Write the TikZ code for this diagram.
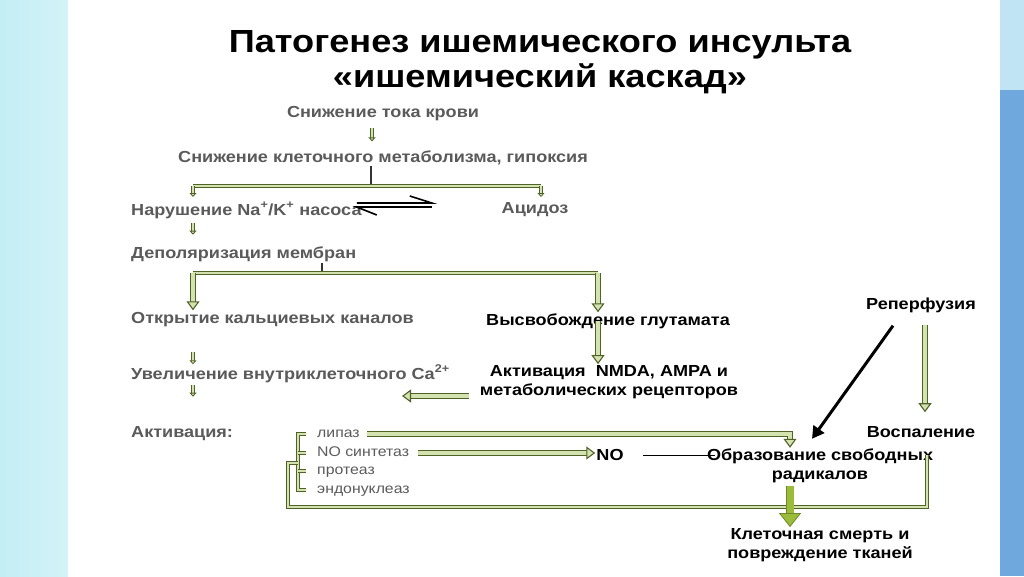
\documentclass[tikz,border=0pt]{standalone}
\usepackage{fontspec}
\setmainfont{Liberation Sans}[FakeStretch=1.13]
\usetikzlibrary{positioning, arrows.meta, calc}

\definecolor{txtgray}{HTML}{5A5A5A}
\definecolor{oliveline}{HTML}{4F6228}
\definecolor{olivefill}{HTML}{D4E2B0}
\definecolor{limefill}{HTML}{9BBB3A}
\definecolor{limeline}{HTML}{6E8A2A}
\definecolor{stripcyan}{HTML}{C4EDF4}
\definecolor{stripcyanb}{HTML}{D3F3F8}
\definecolor{striplight}{HTML}{C0E4F4}
\definecolor{stripblue}{HTML}{6FA8DC}

\begin{document}
\begin{tikzpicture}[
  x=1pt, y=-1pt,
  every node/.style={font=\bfseries\fontsize{16}{19}\selectfont, inner sep=1pt},
  lbl/.style={text=txtgray, anchor=west, text height=11.5pt, text depth=3.5pt},
  cbl/.style={text=black, align=center},
  item/.style={text=txtgray, anchor=west, font=\fontsize{14}{16}\selectfont,
    text height=10pt, text depth=3pt},
  bar/.style={draw=oliveline, double=olivefill, double distance=2pt, line width=1pt},
  garr/.style={draw=oliveline, double=olivefill, double distance=4pt, line width=1.1pt,
    -{Triangle[length=9pt, width=13pt, fill=olivefill]}},
  tiny/.style={draw=oliveline, double=olivefill, double distance=1.6pt, line width=0.8pt,
    -{Triangle[length=4pt, width=7pt, fill=olivefill]}},
  stem/.style={draw=black!80, line width=2pt},
  eq/.style={draw=black, line width=1.6pt},
  thinln/.style={draw=black, line width=1pt},
  blk/.style={draw=black, line width=3pt, -{Triangle[length=12pt, width=13pt]}},
  limearr/.style={draw=limeline, double=limefill, double distance=7pt, line width=0.8pt,
    -{Triangle[length=14pt, width=22pt, fill=limefill]}},
]
\useasboundingbox (0,0) rectangle (1024,576);

%% side strips
\shade[left color=stripcyan, right color=stripcyanb] (0,0) rectangle (68,576);
\fill[striplight] (1000,0) rectangle (1024,90);
\fill[stripblue] (1000,90) rectangle (1024,576);

%% Title
\node[font=\bfseries\fontsize{32}{35}\selectfont, align=center] (title) at (540,62)
  {Патогенез ишемического инсульта\\«ишемический каскад»};

%% Left column
\node[cbl, text=txtgray] (flow) at (383,114) {Снижение тока крови};
\node[cbl, text=txtgray] (metab) at (383,158) {Снижение клеточного метаболизма, гипоксия};
\node[lbl] (pump) at (130,211) {Нарушение Na\textsuperscript{+}/K\textsuperscript{+} насоса};
\node[cbl, text=txtgray] (acid) at (535,210) {Ацидоз};
\node[lbl] (depol) at (130,254) {Деполяризация мембран};
\node[lbl] (calch) at (130,319) {Открытие кальциевых каналов};
\node[lbl] (cain) at (130,375) {Увеличение внутриклеточного Ca\textsuperscript{2+}};
\node[lbl] (activ) at (130,433) {Активация:};

%% Enzymes
\node[item] (lip) at (316,434) {липаз};
\node[item] (nos) at (316,453) {NO синтетаз};
\node[item] (prot) at (316,471) {протеаз};
\node[item] (endo) at (316,490) {эндонуклеаз};

%% Right column
\node[cbl] (glut) at (608,321) {Высвобождение глутамата};
\node[cbl] (nmda) at (609,382) {Активация\ \ NMDA, AMPA и\\метаболических рецепторов};
\node[cbl] (no) at (610,455) {NO};
\node[cbl] (rad) at (820,466) {Образование свободных\\радикалов};
\node[cbl] (death) at (820,545) {Клеточная смерть и\\повреждение тканей};
\node[cbl] (reperf) at (921,305) {Реперфузия};
\node[cbl] (infl) at (921,432) {Воспаление};

%% Helper coordinates
\coordinate (b1l) at (193,186);
\coordinate (b1r) at (541,186);
\coordinate (b2l) at (193,273);
\coordinate (b2r) at (598,273);
\coordinate (brk) at (298,0);
\coordinate (radin) at (790,0);
\coordinate (rtop) at (927,455);

%% Arrows
\draw[tiny] ($(flow.south)+(-11,6)$) -- ++(0,13);
\draw[stem] ([xshift=-12pt]metab.south) -- (b1l -| 371,0);
\draw[bar] (b1l) -- (b1r);
\draw[tiny] (b1l) -- ++(0,11);
\draw[tiny] (b1r) -- ++(0,11);
\draw[eq] (pump.east) ++(-6,-8) -- ++(75,0) -- ++(-22,-7);
\draw[eq] (pump.east) ++(69,-4) -- ++(-75,0) -- ++(20,8);
\draw[tiny] (b1l |- pump.south) ++(0,3) -- ++(0,12);

\draw[stem] (depol.south -| 322,0) -- (b2l -| 322,0);
\draw[bar] (b2l) -- (b2r);
\draw[garr] (b2l) -- (b2l |- calch.north);
\draw[garr] (b2r) -- (b2r |- glut.north);
\draw[garr] (b2r |- glut.center) -- (b2r |- nmda.north);
\draw[garr] ($(nmda.west |- 0,396)+(-10,0)$) -- (402,396);
\draw[tiny] (b1l |- cain.north) ++(0,-14) -- ++(0,12);
\draw[tiny] (b1l |- cain.south) ++(0,1) -- ++(0,12);

%% Enzyme brackets
\draw[bar] (brk |- lip) ++(8,0) -- (brk |- lip) -- (brk |- endo) -- ++(8,0);
\foreach \n in {nos,prot} \draw[bar] (brk |- \n) -- ++(8,0);
\draw[bar] (brk |- 0,463) -- (288,463) -- (288,507) -| (rtop);

\draw[garr] ([xshift=6pt]lip.east) -| (radin |- rad.north);
\draw[garr] ([xshift=8pt]nos.east) -- (nos.east -| no.west);
\draw[thinln] ([xshift=18pt]no.east) -- ($(no.east -| rad.west)+(9,0)$);
\draw[limearr] ($(radin |- rad.south)+(0,2)$) -- (radin |- death.north);

%% Reperfusion
\draw[blk] ($(reperf.south)+(-28,12)$) -- ($(rad.north)+(-8,-9)$);
\draw[garr] ($(reperf.south)+(4,11)$) -- ($(infl.north)+(4,-13)$);

\end{tikzpicture}
\end{document}
